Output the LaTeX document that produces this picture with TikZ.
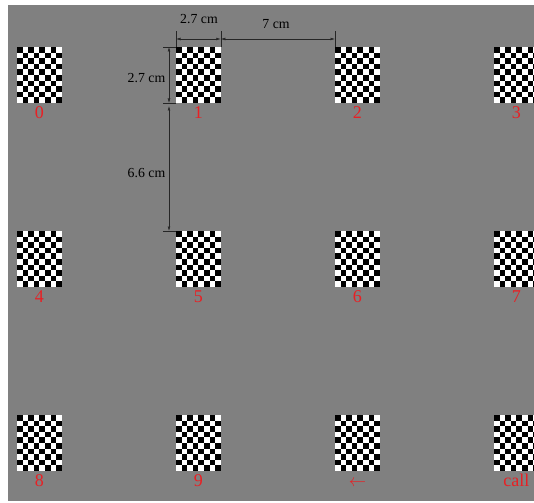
\documentclass[tikz,border=0pt]{standalone}
\usepackage{fontspec}
\setmainfont{Liberation Serif}
\usetikzlibrary{positioning, arrows.meta}
\definecolor{bggray}{RGB}{128,128,128}
\definecolor{lblred}{RGB}{232,32,36}
\tikzset{
  board/.style={rectangle, fill=white, inner sep=0pt, outer sep=0pt, minimum width=44.8pt, minimum height=56pt,
    path picture={
      \foreach \r in {0,...,9}{
        \pgfmathtruncatemacro\colshift{mod(\r,2)}
        \foreach \c in {0,2,4,6}{
          \fill[black] ([xshift=(\c+\colshift)*5.6pt, yshift=-\r*5.6pt]path picture bounding box.north west) rectangle ++(5.6pt,-5.6pt);
        }
      }
    }},
  keylabel/.style={text=lblred, font=\fontsize{18}{20}\selectfont, inner sep=0pt, text height=13pt, text depth=0pt},
  dimtext/.style={font=\fontsize{13.8}{16}\selectfont, inner sep=0pt},
  dimline/.style={{Latex[length=4.5pt,width=2.8pt]}-{Latex[length=4.5pt,width=2.8pt]}, line width=0.55pt, black!85},
  extline/.style={line width=0.55pt, black!85},
}

\begin{document}
\begin{tikzpicture}[x=1pt, y=-1pt, node distance=128pt and 114.2pt]

  % Background
  \useasboundingbox (0,0) rectangle (534,502);
  \fill[white] (0,0) rectangle (534,502);
  \fill[bggray] (8,5) rectangle (534,501);

  % Boards
  \node[board, anchor=north west] (b0) at (17,47) {};
  \node[board, right=of b0] (b1) {};
  \node[board, right=of b1] (b2) {};
  \node[board, right=of b2] (b3) {};
  \node[board, below=of b0] (b4) {};
  \node[board, right=of b4] (b5) {};
  \node[board, right=of b5] (b6) {};
  \node[board, right=of b6] (b7) {};
  \node[board, below=of b4] (b8) {};
  \node[board, right=of b8] (b9) {};
  \node[board, right=of b9] (bback) {};
  \node[board, right=of bback] (bcall) {};

  % Key labels
  \node[keylabel, below=2pt of b0] (l0) {0};
  \node[keylabel, below=2pt of b1] (l1) {1};
  \node[keylabel, below=2pt of b2] (l2) {2};
  \node[keylabel, below=2pt of b3] (l3) {3};
  \node[keylabel, below=2pt of b4] (l4) {4};
  \node[keylabel, below=2pt of b5] (l5) {5};
  \node[keylabel, below=2pt of b6] (l6) {6};
  \node[keylabel, below=2pt of b7] (l7) {7};
  \node[keylabel, below=2pt of b8] (l8) {8};
  \node[keylabel, below=2pt of b9] (l9) {9};
  \node[keylabel, below=2pt of bback] (lback) {$\leftarrow$};
  \node[keylabel, below=2pt of bcall] (lcall) {call};

  % Horizontal dimensions
  \coordinate (extA) at ([yshift=16pt]b1.north west);
  \coordinate (extB) at ([yshift=16pt]b1.north east);
  \coordinate (extC) at ([yshift=16pt]b2.north west);
  \coordinate (dimA) at ([yshift=8pt]b1.north west);
  \coordinate (dimB) at ([yshift=8pt]b1.north east);
  \coordinate (dimC) at ([yshift=8pt]b2.north west);
  \draw[extline] (b1.north west) -- (extA);
  \draw[extline] (b1.north east) -- (extB);
  \draw[extline] (b2.north west) -- (extC);
  \draw[dimline] (dimA) -- (dimB);
  \draw[dimline] (dimB) -- (dimC);
  \node[dimtext] (wlabel) at (199,19) {2.7 cm};
  \node[dimtext] (glabel) at (276,24) {7 cm};

  % Vertical dimensions
  \coordinate (extD) at ([xshift=-13pt]b1.north west);
  \coordinate (extE) at ([xshift=-13pt]b1.south west);
  \coordinate (extF) at ([xshift=-13pt]b5.north west);
  \coordinate (dimD) at ([xshift=-7pt]b1.north west);
  \coordinate (dimE) at ([xshift=-7pt]b1.south west);
  \coordinate (dimF) at ([xshift=-7pt]b5.north west);
  \draw[extline] (b1.north west) -- (extD);
  \draw[extline] (b1.south west) -- (extE);
  \draw[extline] (b5.north west) -- (extF);
  \draw[dimline] (dimD) -- (dimE);
  \draw[dimline, shorten <=3pt] (dimE) -- (dimF);
  \node[dimtext] (hlabel) at (146.5,78) {2.7 cm};
  \node[dimtext] (vlabel) at (146.5,173) {6.6 cm};

\end{tikzpicture}
\end{document}
